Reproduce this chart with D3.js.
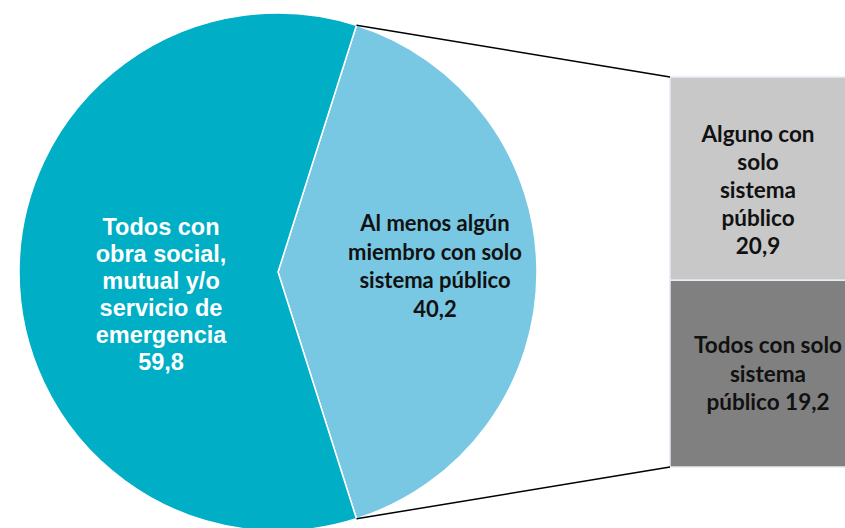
<!DOCTYPE html>
<html>
<head>
<meta charset="utf-8">
<script src="https://cdn.jsdelivr.net/npm/d3@7"></script>
<style>
  body { margin: 0; background: #fff; }
  svg { display: block; }
</style>
</head>
<body>
<svg width="845" height="528"></svg>
<script>
// pie slices
const pieNames = ["Al menos algún miembro con solo sistema público", "Todos con obra social, mutual y/o servicio de emergencia"];
const pieValues = [40.2, 59.8];
const pieLabels = [
    ["Al menos algún", "miembro con solo", "sistema público", "40,2"],
    ["Todos con", "obra social,", "mutual y/o", "servicio de", "emergencia", "59,8"]
];

// bar breakdown of the 40,2
const barNames = ["Alguno con solo sistema público", "Todos con solo sistema público"];
const barValues = [20.9, 19.2];
const barLabels = [
    ["Alguno con", "solo", "sistema", "público", "20,9"],
    ["Todos con solo", "sistema", "público 19,2"]
];

let w = 845;
let h = 528;
let cx = 278, cy = 272, r = 259;

let svg = d3.select("svg");

let total = d3.sum(pieValues);
let span = 2 * Math.PI * pieValues[0] / total;
let start = Math.PI / 2 - span / 2;

let pie = d3.pie()
    .sort(null)
    .startAngle(start)
    .endAngle(start + 2 * Math.PI);

let arcs = pie(pieValues);
let arc = d3.arc().innerRadius(0).outerRadius(r);
let pieColors = ["#78c8e3", "#00aec5"];

let g = svg.append("g").attr("transform", "translate(" + cx + "," + cy + ")");

g.selectAll("path")
    .data(arcs)
    .enter()
    .append("path")
    .attr("d", arc)
    .attr("fill", (d, i) => pieColors[i])
    .attr("stroke", "#ffffff")
    .attr("stroke-width", 1.5);

// bar
let barX = 670, barW = 176;
let yScale = d3.scaleLinear()
    .domain([0, d3.sum(barValues)])
    .range([77, 467]);

let stacked = [];
let acc = 0;
barValues.forEach((v, i) => {
    stacked.push({ name: barNames[i], y0: acc, y1: acc + v });
    acc += v;
});
let barColors = ["#c8c8c8", "#808080"];

svg.selectAll("rect.seg")
    .data(stacked)
    .enter()
    .append("rect")
    .attr("class", "seg")
    .attr("x", barX)
    .attr("y", d => yScale(d.y0))
    .attr("width", barW)
    .attr("height", d => yScale(d.y1) - yScale(d.y0))
    .attr("fill", (d, i) => barColors[i])
    .attr("stroke", "#e4ebf2")
    .attr("stroke-width", 1.5);

// connector lines
let a0 = arcs[0].startAngle, a1 = arcs[0].endAngle;
let pt = a => [cx + r * Math.sin(a), cy - r * Math.cos(a)];
let p0 = pt(a0), p1 = pt(a1);
svg.append("line")
    .attr("x1", p0[0]).attr("y1", p0[1])
    .attr("x2", barX).attr("y2", yScale(0))
    .attr("stroke", "#000").attr("stroke-width", 1.5);
svg.append("line")
    .attr("x1", p1[0]).attr("y1", p1[1])
    .attr("x2", barX).attr("y2", yScale(d3.sum(barValues)))
    .attr("stroke", "#000").attr("stroke-width", 1.5);

// labels
let addLabel = (lines, x, y, step, font, size, color) => {
    let t = svg.append("text")
        .attr("text-anchor", "middle")
        .attr("font-family", font)
        .attr("font-weight", "bold")
        .attr("font-size", size)
        .attr("fill", color);
    lines.forEach((l, i) => {
        t.append("tspan").attr("x", x).attr("y", y + i * step).text(l);
    });
};

addLabel(pieLabels[1], 161, 235, 27, "Liberation Sans, Arial, sans-serif", 23.5, "#ffffff");
addLabel(pieLabels[0], 435, 231, 28.5, "Lato, sans-serif", 22, "#111111");
addLabel(barLabels[0], 758, 142, 28, "Lato, sans-serif", 22.5, "#111111");
addLabel(barLabels[1], 768, 353, 28.5, "Lato, sans-serif", 22.5, "#111111");
</script>
</body>
</html>
